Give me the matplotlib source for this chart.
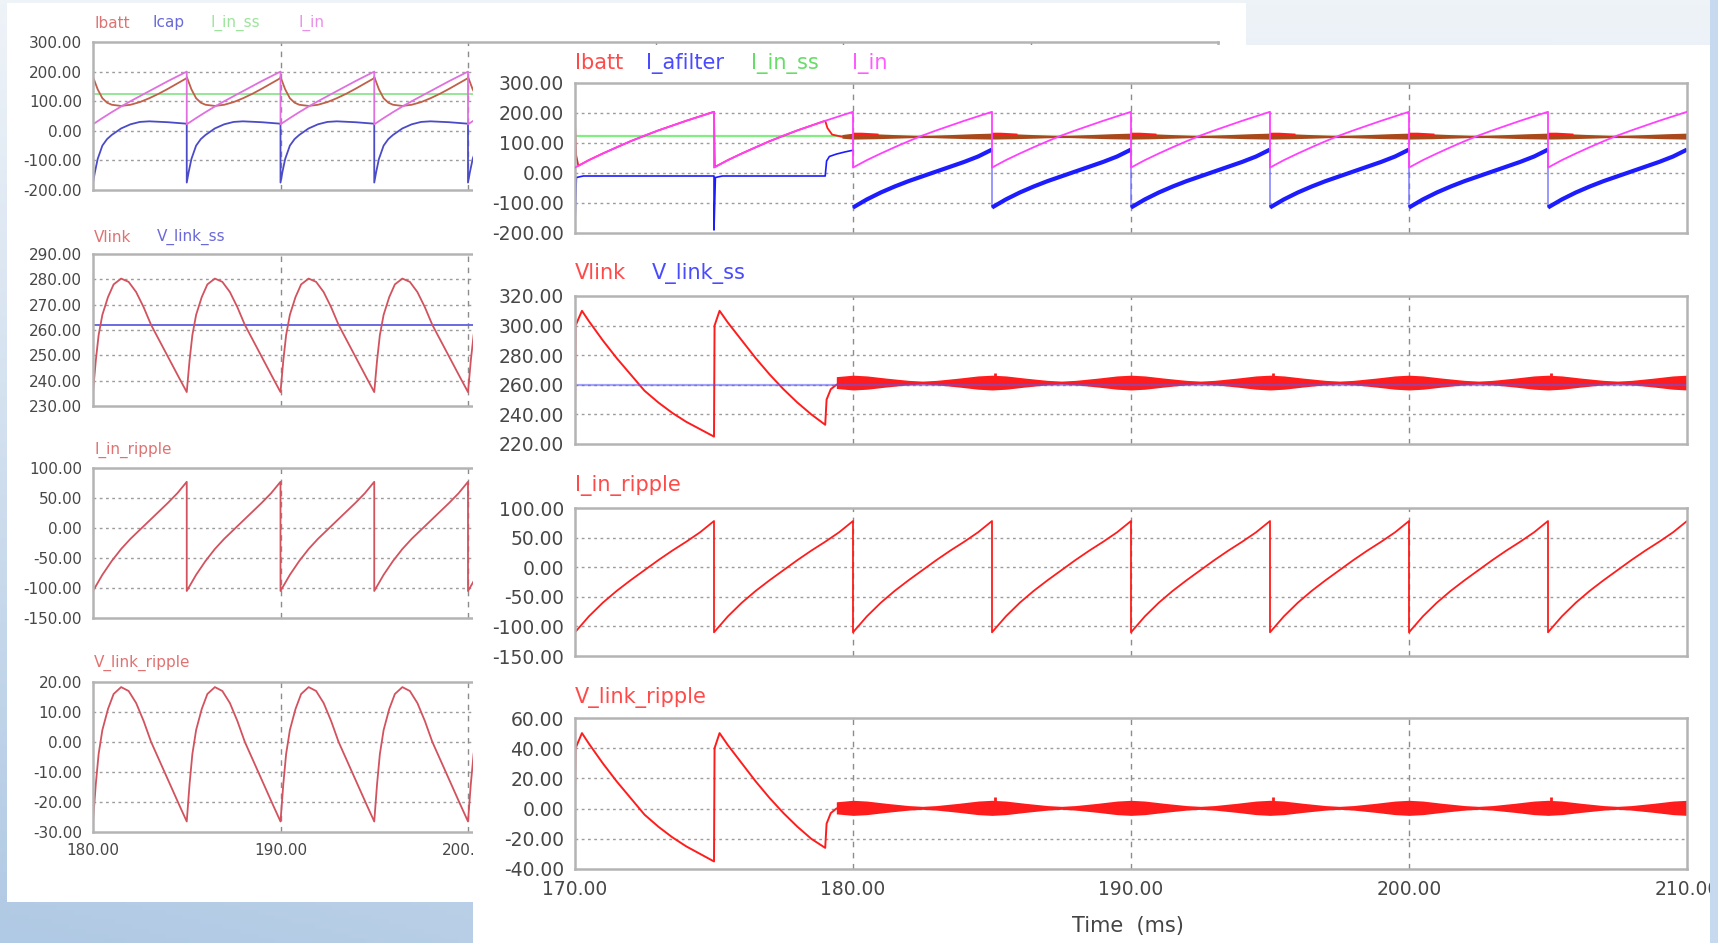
import numpy as np
import matplotlib
matplotlib.use("Agg")
import matplotlib.pyplot as plt
from matplotlib.patches import Rectangle

W, H = 1718, 943

# ---------------- values ----------------
# one switching period is 5 ms; shapes are sampled at these offsets (ms)
off_half = [0, 0.5, 1, 1.5, 2, 2.5, 3, 3.5, 4, 4.5, 5]

# right window, 170 .. 210 ms
r_starts = [170, 175, 180, 185, 190, 195, 200, 205]
r_steady_starts = [180, 185, 190, 195, 200, 205]
r_i_in = [18, 43, 65, 86, 106, 125, 142, 158, 174, 189, 204]
r_i_in_ripple = [-110, -83, -60, -40, -22, -5, 12, 28, 43, 59, 78]
r_i_afilter = [-115, -88, -65, -45, -27, -11, 5, 21, 37, 55, 78]
r_i_in_ss = 125
r_v_link_ss = 260

# start-up part, before the active filter takes over at ~179 ms
r_afilter_tr_t = [170.0, 170.05, 170.3, 175.0, 175.0, 175.05, 175.3, 179.0, 179.05, 179.15, 179.4, 179.7, 180.0]
r_afilter_tr_v = [-165, -15, -10, -10, -190, -15, -10, -10, 40, 55, 63, 70, 76]
r_ibatt_tr_t = [170.0, 170.04, 170.12, 170.5, 171, 172, 173, 174, 175.0, 175.03, 175.5, 176, 177, 178, 179.0, 179.08, 179.25, 179.6]
r_ibatt_tr_v = [165, 60, 24, 43, 65, 106, 142, 174, 204, 20, 43, 65, 106, 142, 174, 150, 128, 121]
# battery current after 179 ms: noisy band, envelope per period
r_ibatt_env_off = [0, 0.7, 1.5, 2.2, 2.8, 3.5, 4.3, 5]
r_ibatt_env_hi = [133, 131, 128, 125, 125, 128, 131, 133]
r_ibatt_env_lo = [113, 114, 116, 118, 118, 116, 114, 113]
r_ibatt_hot_off = [0, 0.3, 0.9]
r_ibatt_hot_hi = [136, 136, 133]

r_vlink_tr_t = [170.0, 170.02, 170.25, 170.5, 171.0, 171.5, 172.0, 172.5, 173.0, 173.5, 174.0, 174.5, 175.0,
                175.02, 175.2, 175.5, 176.0, 176.5, 177.0, 177.5, 178.0, 178.5, 179.0, 179.05, 179.2, 179.4]
r_vlink_tr_v = [240, 300, 310, 303, 290, 278, 267, 256, 248, 241, 235, 230, 225,
                300, 310, 302, 290, 278, 267, 257, 248, 240, 233, 250, 257, 260]
r_vripple_tr_v = [10, 40, 50, 43, 30, 18, 7, -4, -12, -19, -25, -30, -35,
                  40, 50, 42, 30, 18, 7, -3, -12, -20, -26, -10, -3, 0]
# noisy steady-state band: centre and half width per period
r_vlink_center = 261.5
r_vripple_center = 0.5
r_band_off = [0, 0.5, 1.2, 2.0, 2.5, 3.0, 3.8, 4.5, 5]
r_band_hw = [5, 4.5, 3, 1.5, 1, 1.5, 3, 4.5, 5]
r_spike_t = [185.1, 195.1, 205.1]
r_vlink_spike = [268, 268, 268]
r_vripple_spike = [8, 8, 8]

# left window, 180 .. 240 ms
l_starts = [180, 185, 190, 195, 200, 205, 210, 215, 220, 225, 230, 235]
l_i_in = [22, 43, 63, 82, 100, 117, 134, 151, 168, 184, 200]
l_i_in_ripple = [-105, -78, -55, -35, -18, -3, 12, 27, 42, 58, 77]
l_off_icap = [0, 0.1, 0.25, 0.5, 0.75, 1.0, 1.5, 2.0, 2.5, 3.0, 4.0, 5.0]
l_icap = [-175, -140, -95, -50, -28, -14, 8, 22, 30, 32, 29, 24]
l_off_ibatt = [0, 0.25, 0.5, 0.75, 1, 1.5, 2, 2.5, 3, 3.5, 4, 4.5, 5]
l_ibatt = [182, 140, 110, 95, 88, 84, 88, 97, 110, 125, 142, 160, 178]
l_off_vlink = [0, 0.15, 0.3, 0.5, 0.8, 1.1, 1.5, 1.9, 2.3, 2.7, 3.1, 3.6, 4.1, 4.6, 5.0]
l_vlink = [235.5, 248, 258, 266, 273, 278, 280.3, 279, 275, 269, 262, 255, 248, 241, 235.5]
l_vripple = [-26.5, -14, -4, 4, 11, 16, 18.3, 17, 13, 7, 0, -7, -14, -21, -26.5]
l_i_in_ss = 125
l_v_link_ss = 262


def tile(starts, offs, vals):
    t = np.concatenate([s + np.asarray(offs, float) for s in starts])
    v = np.tile(np.asarray(vals, float), len(starts))
    return t, v


def box(x0, y0, x1, y1):
    # pixel box (top-left origin) -> figure fraction rect
    return [x0 / W, 1 - y1 / H, (x1 - x0) / W, (y1 - y0) / H]


def scope_axes(fig, pix, xlim, xticks, ylim, yticks, fs, show_x, z):
    ax = fig.add_axes(box(*pix))
    ax.set_zorder(z)
    ax.set_facecolor("white")
    ax.set_xlim(*xlim)
    ax.set_ylim(*ylim)
    ax.set_yticks(yticks)
    ax.set_yticklabels(["%.2f" % v for v in yticks])
    ax.set_xticks(xticks)
    ax.set_xticklabels(["%.2f" % v for v in xticks] if show_x else [])
    ax.tick_params(length=0, pad=8, labelsize=fs, labelcolor="#474747")
    for s in ax.spines.values():
        s.set_color("#b4b4b4")
        s.set_linewidth(1.8)
    for v in yticks[1:-1]:
        ax.axhline(v, color="#9c9c9c", lw=1.0, ls=(0, (2, 2.5)), zorder=0.5)
    for v in xticks:
        if xlim[0] < v < xlim[1]:
            ax.axvline(v, color="#8c8c8c", lw=1.0, ls=(0, (4, 4)), zorder=0.5)
    return ax


def label(fig, x, y, s, color, fs):
    fig.text(x / W, 1 - y / H, s, color=color, fontsize=fs, va="center", ha="left")


plt.rcParams["font.family"] = ["DejaVu Sans"]
fig = plt.figure(figsize=(W / 100, H / 100), dpi=100)

# background gradient
bg = fig.add_axes([0, 0, 1, 1])
bg.set_zorder(-5)
xs = np.linspace(0, 1, 300)[None, :]
ys = np.linspace(0, 1, 200)[:, None]
k = np.clip(ys * (0.55 + 0.45 * (1 - xs)), 0, 1)[..., None]
light = np.array([238, 243, 248]) / 255
dark = np.array([176, 201, 228]) / 255
bg.imshow(light + (dark - light) * k, aspect="auto", extent=[0, 1, 0, 1])
bg.axis("off")

# white window backgrounds
fig.add_artist(Rectangle((7 / W, 1 - 902 / H), 1239 / W, 899 / H, transform=fig.transFigure,
                         facecolor="white", edgecolor="none", zorder=-1))

# ---------------- left window ----------------
lc_red, lc_blue, lc_green, lc_mag = "#d2525e", "#4b4bc8", "#96e696", "#e070e0"
lx = (180, 240)
lxt = [180, 190, 200, 210, 220, 230, 240]

a = scope_axes(fig, (93, 42, 1218, 190), lx, lxt, (-200, 300), [-200, -100, 0, 100, 200, 300], 11, False, 0)
a.axhline(l_i_in_ss, color=lc_green, lw=1.4)
t, v = tile(l_starts, l_off_icap, l_icap)
a.plot(t, v, color=lc_blue, lw=1.3)
t, v = tile(l_starts, l_off_ibatt, l_ibatt)
a.plot(t, v, color="#c0604a", lw=1.3)
t, v = tile(l_starts, off_half, l_i_in)
a.plot(t, v, color=lc_mag, lw=1.3)

a = scope_axes(fig, (93, 254, 1218, 406), lx, lxt, (230, 290), [230, 240, 250, 260, 270, 280, 290], 11, False, 0)
a.axhline(l_v_link_ss, color="#6a6ae0", lw=1.4)
t, v = tile(l_starts, l_off_vlink, l_vlink)
a.plot(t, v, color=lc_red, lw=1.3)

a = scope_axes(fig, (93, 468, 1218, 618), lx, lxt, (-150, 100), [-150, -100, -50, 0, 50, 100], 11, False, 0)
t, v = tile(l_starts, off_half, l_i_in_ripple)
a.plot(t, v, color=lc_red, lw=1.3)

a = scope_axes(fig, (93, 682, 1218, 832), lx, lxt, (-30, 20), [-30, -20, -10, 0, 10, 20], 11, True, 0)
t, v = tile(l_starts, l_off_vlink, l_vripple)
a.plot(t, v, color=lc_red, lw=1.3)

label(fig, 94, 23, "Ibatt", "#e07272", 11)
label(fig, 153, 23, "Icap", "#6a6ad8", 11)
label(fig, 210, 23, "I_in_ss", "#9ce49c", 11)
label(fig, 298, 23, "I_in", "#e890e8", 11)
label(fig, 94, 237, "Vlink", "#e07272", 11)
label(fig, 157, 237, "V_link_ss", "#6a6ad8", 11)
label(fig, 94, 450, "I_in_ripple", "#e07272", 11)
label(fig, 94, 663, "V_link_ripple", "#e07272", 11)

# ---------------- right window (drawn over the left one) ----------------
fig.add_artist(Rectangle((473 / W, 0), 1237 / W, 1 - 45 / H, transform=fig.transFigure,
                         facecolor="white", edgecolor="none", zorder=1))
rc_red, rc_blue, rc_green, rc_mag = "#ff1c1c", "#1c1cff", "#80ee80", "#ff40ff"
rx = (170, 210)
rxt = [170, 180, 190, 200, 210]

a = scope_axes(fig, (575, 83, 1687, 233), rx, rxt, (-200, 300), [-200, -100, 0, 100, 200, 300], 13.5, False, 2)
a.axhline(r_i_in_ss, color=rc_green, lw=1.6)
a.plot(r_afilter_tr_t, r_afilter_tr_v, color=rc_blue, lw=1.2)
t, v = tile(r_steady_starts, off_half, r_i_afilter)
a.plot(t, v, color="#7070ff", lw=1.0)
for s in r_steady_starts:
    a.plot(s + np.asarray(off_half), r_i_afilter, color=rc_blue, lw=3.0, solid_capstyle="butt")
a.plot(r_ibatt_tr_t, r_ibatt_tr_v, color=rc_red, lw=1.3)
t, lo = tile(r_steady_starts, r_ibatt_env_off, r_ibatt_env_lo)
t, hi = tile(r_steady_starts, r_ibatt_env_off, r_ibatt_env_hi)
a.fill_between(np.r_[179.6, t], np.r_[116, lo], np.r_[128, hi], color="#a9481b", lw=0, zorder=2.5)
for s in r_steady_starts:
    a.fill_between(s + np.asarray(r_ibatt_hot_off), 126, r_ibatt_hot_hi, color=rc_red, lw=0, zorder=2.6)
t, v = tile(r_starts, off_half, r_i_in)
a.plot(t, v, color=rc_mag, lw=1.3, zorder=3)

a = scope_axes(fig, (575, 296, 1687, 444), rx, rxt, (220, 320), [220, 240, 260, 280, 300, 320], 13.5, False, 2)
a.plot(r_vlink_tr_t, r_vlink_tr_v, color=rc_red, lw=1.4)
t, hw = tile(r_steady_starts, r_band_off, r_band_hw)
t = np.r_[179.4, t]
hw = np.r_[4.0, hw]
a.fill_between(t, r_vlink_center - hw, r_vlink_center + hw, color=rc_red, lw=0)
a.vlines(r_spike_t, r_vlink_center, r_vlink_spike, color=rc_red, lw=2.0)
a.axhline(r_v_link_ss, color="#5a5aff", lw=1.6, alpha=0.55)

a = scope_axes(fig, (575, 508, 1687, 656), rx, rxt, (-150, 100), [-150, -100, -50, 0, 50, 100], 13.5, False, 2)
t, v = tile(r_starts, off_half, r_i_in_ripple)
a.plot(t, v, color=rc_red, lw=1.3)

a = scope_axes(fig, (575, 718, 1687, 869), rx, rxt, (-40, 60), [-40, -20, 0, 20, 40, 60], 13.5, True, 2)
a.plot(r_vlink_tr_t, r_vripple_tr_v, color=rc_red, lw=1.4)
t, hw = tile(r_steady_starts, r_band_off, r_band_hw)
t = np.r_[179.4, t]
hw = np.r_[4.0, hw]
a.fill_between(t, r_vripple_center - hw, r_vripple_center + hw, color=rc_red, lw=0)
a.vlines(r_spike_t, r_vripple_center, r_vripple_spike, color=rc_red, lw=2.0)

label(fig, 575, 63, "Ibatt", "#ff4a4a", 15)
label(fig, 646, 63, "I_afilter", "#4a4aff", 15)
label(fig, 751, 63, "I_in_ss", "#66dd66", 15)
label(fig, 852, 63, "I_in", "#ff5cff", 15)
label(fig, 575, 273, "Vlink", "#ff4a4a", 15)
label(fig, 652, 273, "V_link_ss", "#4a4aff", 15)
label(fig, 575, 486, "I_in_ripple", "#ff4a4a", 15)
label(fig, 575, 697, "V_link_ripple", "#ff4a4a", 15)
fig.text(1128 / W, 1 - 926 / H, "Time  (ms)", color="#444444", fontsize=15, ha="center", va="center")

# thin strip of backdrop on the far right, over the cut "210.00"
fig.add_artist(Rectangle((1710 / W, 0), 8 / W, 1, transform=fig.transFigure,
                         facecolor="#c6d9ee", edgecolor="none", zorder=5))

fig.savefig("out.png", dpi=100)
